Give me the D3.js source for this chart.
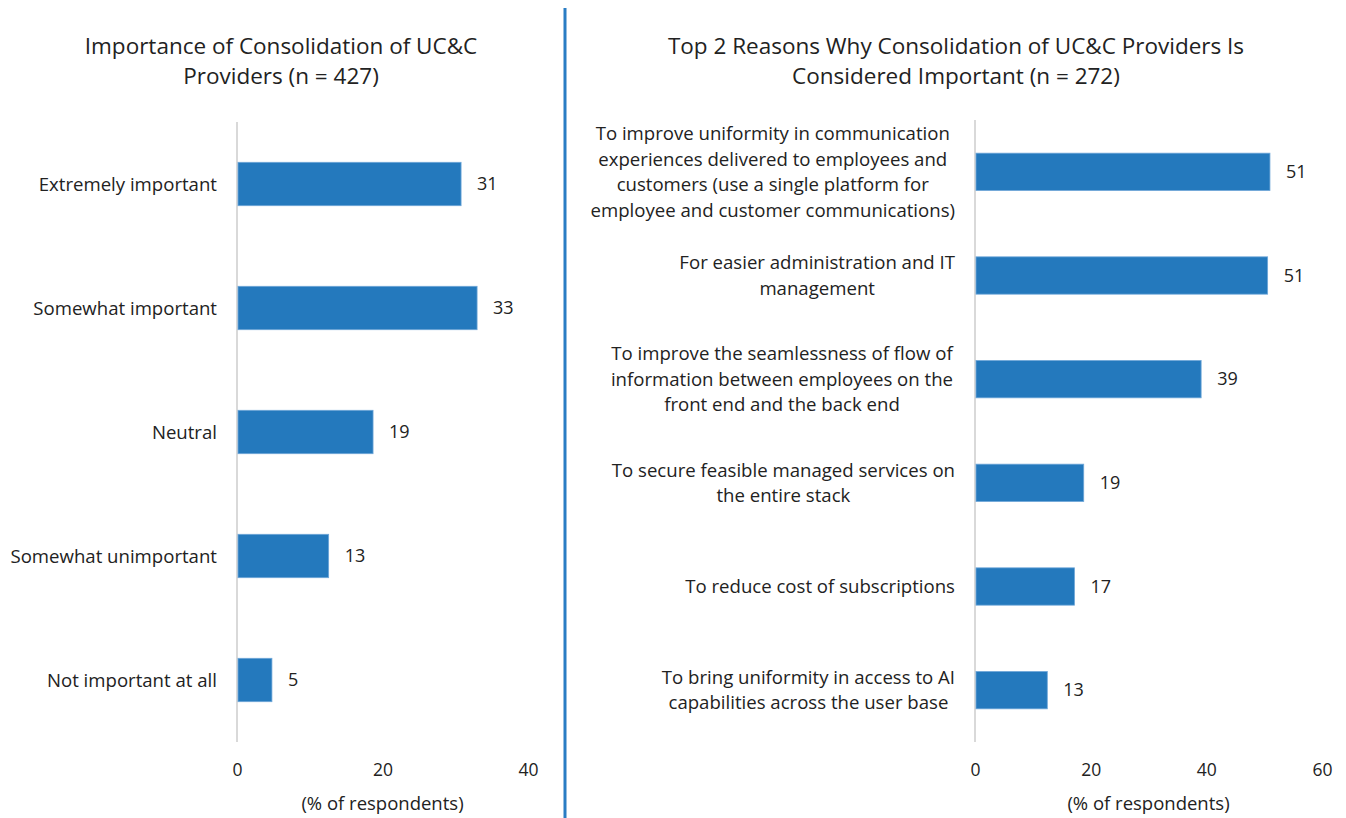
<!DOCTYPE html>
<html>
<head>
<meta charset="utf-8">
<script src="https://cdn.jsdelivr.net/npm/d3@7"></script>
<style>
  body { margin: 0; background: #fff; }
  text { font-family: "Open Sans", sans-serif; fill: #222; }
</style>
</head>
<body>
<div id="d3-container"></div>
<script>
// left chart data
const leftCats = ['Extremely important', 'Somewhat important', 'Neutral', 'Somewhat unimportant', 'Not important at all']
const leftVals = [30.8, 33.0, 18.7, 12.6, 4.8]
const leftTicks = [0, 20, 40]

// right chart data
const rightCats = [
  ['To improve uniformity in communication', 'experiences delivered to employees and', 'customers (use a single platform for', 'employee and customer communications)'],
  ['For easier administration and IT', 'management'],
  ['To improve the seamlessness of flow of', 'information between employees on the', 'front end and the back end'],
  ['To secure feasible managed services on', 'the entire stack'],
  ['To reduce cost of subscriptions'],
  ['To bring uniformity in access to AI', 'capabilities across the user base']
]
const rightVals = [51.0, 50.6, 39.1, 18.8, 17.2, 12.5]
const rightTicks = [0, 20, 40, 60]

const width = 1346
const height = 818
const barColor = '#2479bd'

const svg = d3.select('#d3-container')
  .append('svg')
  .attr('width', width)
  .attr('height', height)

// divider
svg.append('line')
  .attr('x1', 565).attr('x2', 565)
  .attr('y1', 8).attr('y2', height)
  .attr('stroke', '#2a7dc4')
  .attr('stroke-width', 3)

function drawPanel(opt) {
  const g = svg.append('g')
  const x = d3.scaleLinear().domain([0, opt.max]).range([opt.left, opt.right])
  const y = d3.scaleBand()
    .domain(d3.range(opt.vals.length))
    .range([opt.top, opt.bottom])
    .paddingInner(opt.pad)
    .paddingOuter(opt.pad / 2)

  // title
  const t = g.append('text')
    .attr('x', opt.titleX)
    .attr('y', 54)
    .attr('text-anchor', 'middle')
    .style('font-size', '22.5px')
  opt.title.forEach((line, i) => {
    t.append('tspan').attr('x', opt.titleX).attr('dy', i === 0 ? 0 : 30).text(line)
  })

  // axis line
  g.append('line')
    .attr('x1', x(0)).attr('x2', x(0))
    .attr('y1', opt.top).attr('y2', opt.bottom)
    .attr('stroke', '#d9d9d9')
    .attr('stroke-width', 2)

  // bars
  g.selectAll('rect')
    .data(opt.vals)
    .join('rect')
      .attr('x', x(0) + 1)
      .attr('y', (d, i) => y(i))
      .attr('width', d => x(d) - x(0) - 1)
      .attr('height', y.bandwidth())
      .attr('fill', barColor)
      .attr('stroke', '#6ea6d8')
      .attr('stroke-width', 0.8)

  // value labels
  g.selectAll('.val')
    .data(opt.vals)
    .join('text')
      .attr('class', 'val')
      .attr('x', d => x(d) + 16)
      .attr('y', (d, i) => y(i) + y.bandwidth() / 2)
      .attr('dy', '0.35em')
      .style('font-size', '18px')
      .text(d => d3.format('.0f')(d))

  // category labels (block right-aligned, lines centred)
  opt.cats.forEach((lines, i) => {
    const lbl = g.append('text')
      .attr('y', y(i) + y.bandwidth() / 2 - (lines.length - 1) * 25.5 / 2)
      .style('font-size', '18.6px')
      .attr('text-anchor', 'middle')
    lines.forEach((line, j) => {
      lbl.append('tspan').attr('dy', j === 0 ? '0.35em' : 25.5).text(line)
    })
    const tsp = lbl.selectAll('tspan')
    const maxW = d3.max(tsp.nodes(), n => n.getComputedTextLength())
    tsp.attr('x', opt.labelRight - maxW / 2)
  })

  // tick labels via axis
  const axis = g.append('g')
    .attr('transform', `translate(0, ${opt.bottom + 12})`)
    .call(d3.axisBottom(x).tickValues(opt.ticks).tickSize(0).tickPadding(10))
  axis.select('.domain').remove()
  axis.selectAll('text')
    .style('font-size', '17.5px')
    .style('font-family', '"Open Sans", sans-serif')
    .attr('fill', '#222')

  g.append('text')
    .attr('x', (x(0) + x(opt.max)) / 2)
    .attr('y', 810)
    .attr('text-anchor', 'middle')
    .style('font-size', '18.5px')
    .text('(% of respondents)')
}

drawPanel({
  title: ['Importance of Consolidation of UC&C', 'Providers (n = 427)'],
  titleX: 281,
  cats: leftCats.map(c => [c]),
  vals: leftVals,
  ticks: leftTicks,
  max: 40,
  left: 237, right: 528,
  top: 122, bottom: 742,
  pad: 0.65,
  labelRight: 217
})

drawPanel({
  title: ['Top 2 Reasons Why Consolidation of UC&C Providers Is', 'Considered Important (n = 272)'],
  titleX: 956,
  cats: rightCats,
  vals: rightVals,
  ticks: rightTicks,
  max: 60,
  left: 975, right: 1322,
  top: 120, bottom: 742,
  pad: 0.64,
  labelRight: 955
})
</script>
</body>
</html>
